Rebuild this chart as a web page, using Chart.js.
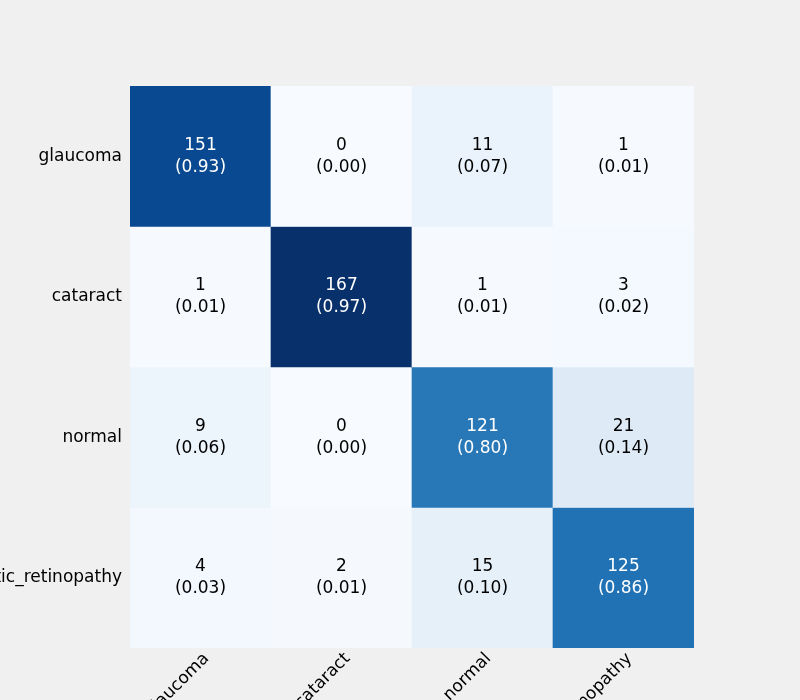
<!DOCTYPE html>
<html>
<head>
<meta charset="UTF-8">
<script src="https://cdn.jsdelivr.net/npm/chart.js"></script>
<style>
  html, body { margin:0; padding:0; background:#f0f0f0; overflow:hidden; }
  #wrap { width:800px; height:700px; }
</style>
</head>
<body>
<div id="wrap"><canvas id="cm"></canvas></div>
<script>
const classes = ['glaucoma', 'cataract', 'normal', 'diabetic_retinopathy'];
// counts[row = true][col = predicted]
const counts = [
  [151, 0, 11, 1],
  [1, 167, 1, 3],
  [9, 0, 121, 21],
  [4, 2, 15, 125]
];
const ratios = [
  [0.93, 0.00, 0.07, 0.01],
  [0.01, 0.97, 0.01, 0.02],
  [0.06, 0.00, 0.80, 0.14],
  [0.03, 0.01, 0.10, 0.86]
];

const blues = ['#f7fbff','#deebf7','#c6dbef','#9ecae1','#6baed6','#4292c6','#2171b5','#08519c','#08306b'];
function hex(c) { return [1,3,5].map(i => parseInt(c.substr(i,2),16)); }
function blue(t) {
  t = Math.max(0, Math.min(1, t));
  const p = t * (blues.length - 1), i = Math.min(Math.floor(p), blues.length - 2), f = p - i;
  const a = hex(blues[i]), b = hex(blues[i+1]);
  return 'rgb(' + a.map((v,k) => Math.round(v + (b[k]-v)*f)).join(',') + ')';
}
const vmax = Math.max(...counts.flat());

const datasets = counts.map((row, r) => ({
  data: row.map(() => [r, r + 1]),
  backgroundColor: row.map(v => blue(v / vmax)),
  borderWidth: 0,
  barPercentage: 1,
  categoryPercentage: 1
}));

const labelPlugin = {
  id: 'cmLabels',
  afterDatasetsDraw(chart) {
    const ctx = chart.ctx, a = chart.chartArea;
    ctx.save();
    ctx.font = '17px "DejaVu Sans"';
    ctx.textAlign = 'center';
    ctx.textBaseline = 'middle';
    chart.data.datasets.forEach((ds, r) => {
      chart.getDatasetMeta(r).data.forEach((bar, c) => {
        const cy = (bar.y + bar.base) / 2;
        ctx.fillStyle = counts[r][c] / vmax > 0.5 ? '#ffffff' : '#000000';
        ctx.fillText(String(counts[r][c]), bar.x, cy - 11);
        ctx.fillText('(' + ratios[r][c].toFixed(2) + ')', bar.x, cy + 11);
      });
    });
    // y tick labels
    ctx.fillStyle = '#000';
    ctx.textAlign = 'right';
    const ys = chart.scales.y, xs = chart.scales.x;
    classes.forEach((name, i) => {
      ctx.fillText(name, a.left - 8, ys.getPixelForValue(i + 0.5));
    });
    // x tick labels rotated 45
    classes.forEach((name, i) => {
      ctx.save();
      ctx.translate(xs.getPixelForValue(i) + 6, a.bottom + 8);
      ctx.rotate(-Math.PI / 4);
      ctx.textAlign = 'right';
      ctx.textBaseline = 'middle';
      ctx.fillText(name, 0, 0);
      ctx.restore();
    });
    ctx.restore();
  }
};

new Chart(document.getElementById('cm'), {
  type: 'bar',
  data: { labels: classes, datasets: datasets },
  options: {
    responsive: true,
    maintainAspectRatio: false,
    animation: false,
    layout: { padding: { left: 130, right: 106, top: 86, bottom: 52 } },
    plugins: { legend: { display: false }, tooltip: { enabled: false } },
    scales: {
      x: { stacked: true, display: false, grid: { display: false } },
      y: { stacked: false, display: false, min: 0, max: 4, reverse: true, grid: { display: false } }
    }
  },
  plugins: [labelPlugin]
});
</script>
</body>
</html>
